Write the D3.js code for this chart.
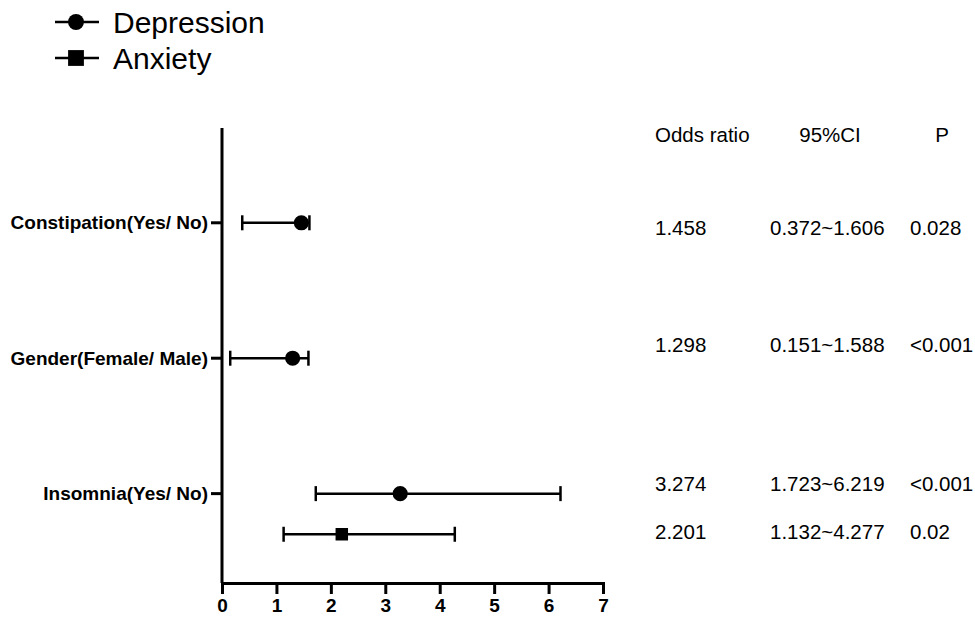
<!DOCTYPE html>
<html>
<head>
<meta charset="utf-8">
<script src="https://cdn.jsdelivr.net/npm/d3@7"></script>
<style>
  body { margin: 0; background: #fff; }
  text { font-family: "Liberation Sans", Arial, sans-serif; fill: #000; }
  .axis path, .axis line { stroke: #000; stroke-width: 3; }
  .axis text { font-weight: bold; font-size: 19px; }
  .ylab { font-weight: bold; font-size: 18px; }
  .tbl { font-size: 20.5px; }
  .leg { font-size: 30px; }
</style>
</head>
<body>
<div id="chart"></div>
<script>
// data
var factors = ["Constipation(Yes/ No)", "Gender(Female/ Male)", "Insomnia(Yes/ No)"];
var outcomes = ["Depression", "Anxiety"];
var rowOutcome = ["Depression", "Depression", "Depression", "Anxiety"];
var rowFactor = [0, 1, 2, 2];
var rowPos = [0, 1, 2, 2.3];
var oddsRatio = [1.458, 1.298, 3.274, 2.201];
var ciLow = [0.372, 0.151, 1.723, 1.132];
var ciHigh = [1.606, 1.588, 6.219, 4.277];
var pText = ["0.028", "<0.001", "<0.001", "0.02"];
var xTicks = [0, 1, 2, 3, 4, 5, 6, 7];
var tableHeads = ["Odds ratio", "95%CI", "P"];

var rows = rowPos.map(function(p, i) {
  return {pos: p, outcome: rowOutcome[i], or: oddsRatio[i], lo: ciLow[i], hi: ciHigh[i], p: pText[i]};
});

var width = 975, height = 618;
var svg = d3.select("#chart").append("svg")
  .attr("width", width)
  .attr("height", height);

// scales
var x = d3.scaleLinear().domain([0, 7]).range([222, 603]);
var y = d3.scaleLinear().domain([-0.7, 2.66]).range([128, 583]);

// x axis
svg.append("g")
  .attr("class", "axis")
  .attr("transform", "translate(0," + y(2.66) + ")")
  .call(d3.axisBottom(x).tickValues(xTicks).tickFormat(d3.format("d"))
    .tickSize(11).tickSizeOuter(0).tickPadding(5))
  .call(function(g) { g.select(".domain").attr("stroke-linecap", "square"); });

// y axis line and category ticks
var yAxis = svg.append("g").attr("class", "axis");
yAxis.append("line")
  .attr("x1", x(0)).attr("x2", x(0))
  .attr("y1", y(-0.7)).attr("y2", y(2.66));

var cats = yAxis.selectAll(".cat")
  .data(factors)
  .enter()
  .append("g")
  .attr("class", "cat")
  .attr("transform", function(d, i) { return "translate(0," + y(i) + ")"; });

cats.append("line")
  .attr("x1", x(0) - 11).attr("x2", x(0));

cats.append("text")
  .attr("class", "ylab")
  .attr("x", x(0) - 14)
  .attr("dy", "0.35em")
  .style("text-anchor", "end")
  .text(function(d) { return d; });

// error bars
var bars = svg.append("g").selectAll(".bar")
  .data(rows)
  .enter()
  .append("g")
  .attr("class", "bar")
  .attr("transform", function(d) { return "translate(0," + y(d.pos) + ")"; });

bars.append("line")
  .attr("x1", function(d) { return x(d.lo); })
  .attr("x2", function(d) { return x(d.hi); })
  .attr("stroke", "#000").attr("stroke-width", 2.5);

bars.selectAll(".cap")
  .data(function(d) { return [d.lo, d.hi]; })
  .enter()
  .append("line")
  .attr("x1", function(d) { return x(d); })
  .attr("x2", function(d) { return x(d); })
  .attr("y1", -7.5).attr("y2", 7.5)
  .attr("stroke", "#000").attr("stroke-width", 2.5);

var circleSym = d3.symbol().type(d3.symbolCircle).size(180);
var squareSym = d3.symbol().type(d3.symbolSquare).size(156);

bars.append("path")
  .attr("transform", function(d) { return "translate(" + x(d.or) + ",0)"; })
  .attr("d", function(d) { return d.outcome === "Depression" ? circleSym() : squareSym(); })
  .attr("fill", "#000");

// table
var colX = [655, 770, 910];
var tableShift = [5, -13, -10, -2];
svg.selectAll(".head")
  .data(tableHeads)
  .enter()
  .append("text")
  .attr("class", "tbl")
  .attr("x", function(d, i) { return [655, 830, 942][i]; })
  .attr("y", 135)
  .attr("dy", "0.35em")
  .style("text-anchor", function(d, i) { return i === 0 ? "start" : "middle"; })
  .text(function(d) { return d; });

var trows = svg.selectAll(".trow")
  .data(rows)
  .enter()
  .append("g")
  .attr("transform", function(d, i) { return "translate(0," + (y(d.pos) + tableShift[i]) + ")"; });

trows.selectAll("text")
  .data(function(d) { return [d.or.toFixed(3), d.lo.toFixed(3) + "~" + d.hi.toFixed(3), d.p]; })
  .enter()
  .append("text")
  .attr("class", "tbl")
  .attr("x", function(d, i) { return colX[i]; })
  .attr("dy", "0.35em")
  .text(function(d) { return d; });

// legend
var legCircle = d3.symbol().type(d3.symbolCircle).size(200);
var legSquare = d3.symbol().type(d3.symbolSquare).size(250);
var legend = svg.selectAll(".legend")
  .data(outcomes)
  .enter()
  .append("g")
  .attr("transform", function(d, i) { return "translate(55," + (22 + i * 36) + ")"; });

legend.append("line")
  .attr("x1", 0).attr("x2", 44)
  .attr("stroke", "#000").attr("stroke-width", 2.5);

legend.append("path")
  .attr("transform", "translate(21,0)")
  .attr("d", function(d) { return d === "Depression" ? legCircle() : legSquare(); })
  .attr("fill", "#000");

legend.append("text")
  .attr("class", "leg")
  .attr("x", 58)
  .attr("dy", "0.35em")
  .text(function(d) { return d; });
</script>
</body>
</html>
